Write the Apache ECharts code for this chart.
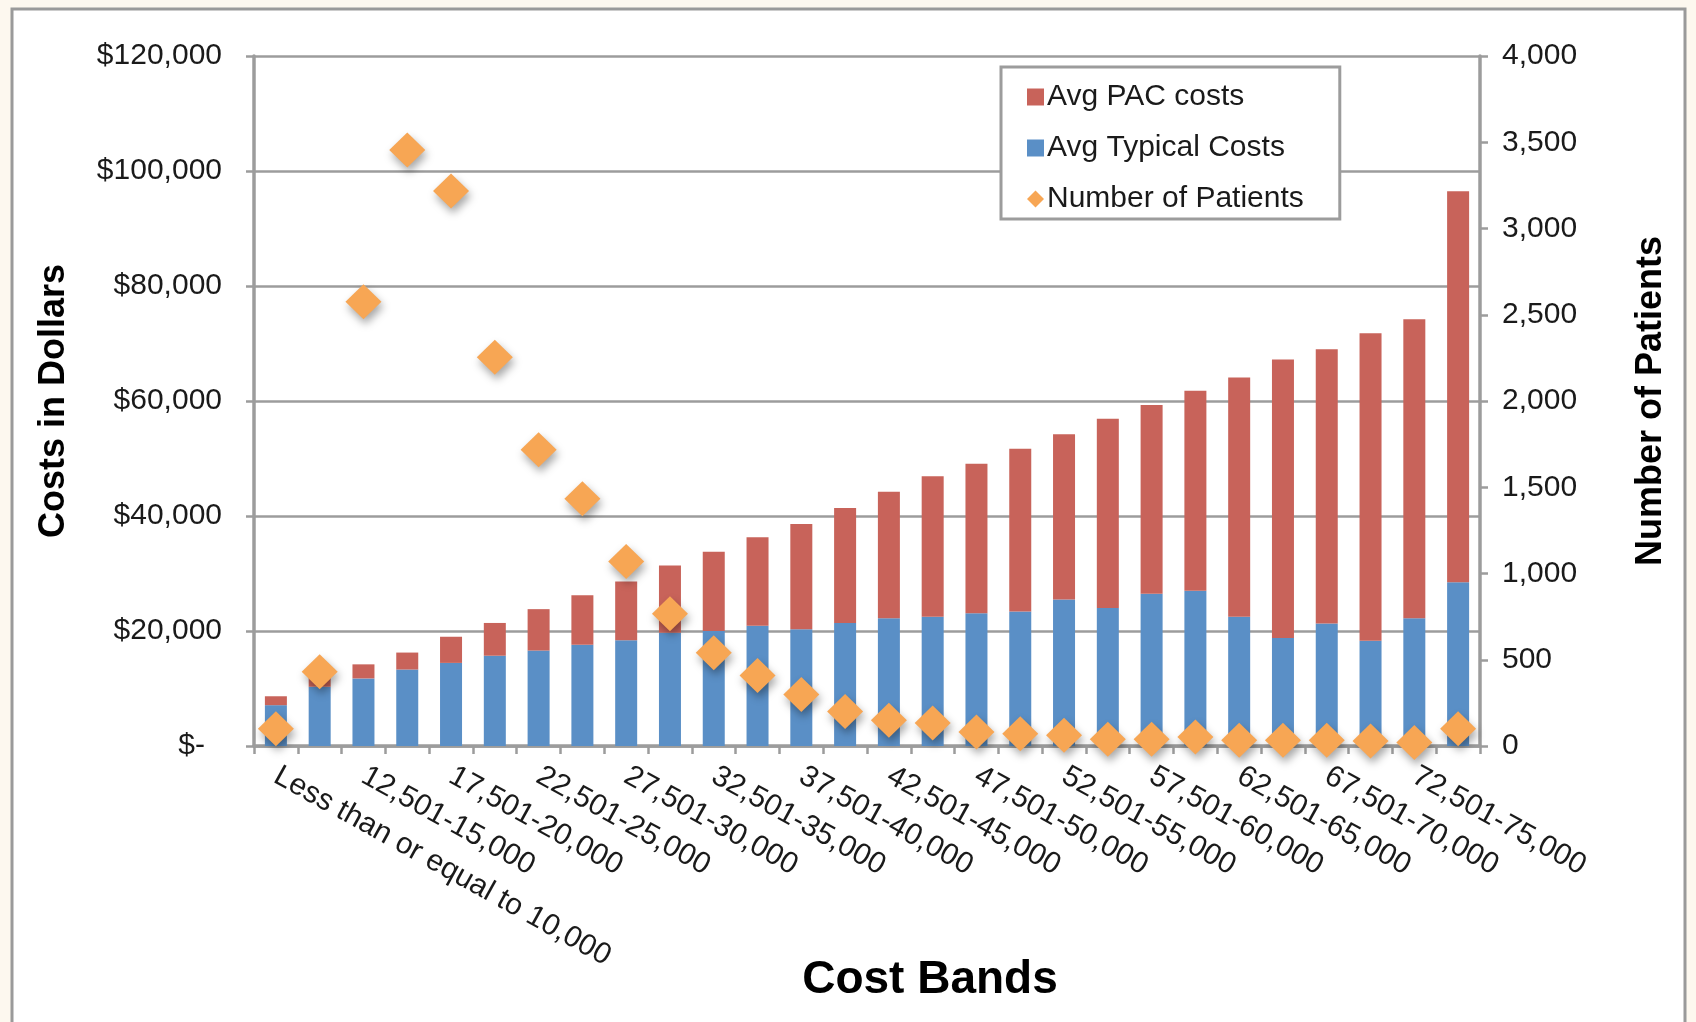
<!DOCTYPE html>
<html>
<head>
<meta charset="utf-8">
<script src="https://cdn.jsdelivr.net/npm/echarts@6/dist/echarts.min.js"></script>
<style>
html,body{margin:0;padding:0;background:#fdf8ef;}
#chart{width:1696px;height:1022px;}
</style>
</head>
<body>
<div id="chart"></div>
<script>
const categories = ["Less than or equal to 10,000","10,001-12,500","12,501-15,000","15,001-17,500","17,501-20,000","20,001-22,500","22,501-25,000","25,001-27,500","27,501-30,000","30,001-32,500","32,501-35,000","35,001-37,500","37,501-40,000","40,001-42,500","42,501-45,000","45,001-47,500","47,501-50,000","50,001-52,500","52,501-55,000","55,001-57,500","57,501-60,000","60,001-62,500","62,501-65,000","65,001-67,500","67,501-70,000","70,001-72,500","72,501-75,000","Greater than 75,000"];
const avgTypicalCosts = [7100,10300,11750,13300,14450,15700,16600,17600,18400,19700,20000,20900,20300,21400,22200,22500,23100,23400,25500,24000,26500,27000,22500,18800,21300,18300,22200,28500];
const avgPacCosts = [1550,1700,2450,2950,4550,5700,7200,8600,10200,11700,13800,15400,18300,20000,22000,24400,26000,28300,28700,32900,32800,34800,41600,48400,47700,53500,52000,68000];
const numberOfPatients = [100,430,2575,3455,3218,2253,1717,1433,1069,766,540,409,299,200,149,133,81,71,62,39,39,52,33,33,33,29,21,100];
const leftTicks = {min:0, max:120000, interval:20000};
const rightTicks = {min:0, max:4000, interval:500};

const FONT = '"Liberation Sans", Arial, Helvetica, sans-serif';
const GRAY = '#9c9c9c';
const TXT = '#1a1a1a';
const RED = '#C8635A';
const BLUE = '#5A8FC6';
const ORANGE = '#F7A654';

const chart = echarts.init(document.getElementById('chart'), null, {renderer:'canvas'});
const fmtMoney = v => v === 0 ? '{z|$-}' : '$' + v.toLocaleString('en-US');
chart.setOption({
  backgroundColor: '#fdf8ef',
  textStyle: {fontFamily: FONT},
  animation: false,
  graphic: [{
    type: 'rect', z: -100, silent: true,
    shape: {x: 12, y: 9, width: 1673, height: 1040},
    style: {fill: '#ffffff', stroke: '#9a9a9a', lineWidth: 3}
  }],
  grid: {left: 254, right: 216, top: 56, bottom: 276, containLabel: false, outerBoundsMode: 'none'},
  legend: {
    orient: 'vertical', left: 1001, top: 67,
    data: [
      {name: 'Avg PAC costs', icon: 'rect'},
      {name: 'Avg Typical Costs', icon: 'rect'},
      {name: 'Number of Patients', icon: 'diamond'}
    ],
    itemWidth: 17, itemHeight: 17, itemGap: 11,
    padding: [10, 36, 0, 26],
    backgroundColor: '#ffffff', borderColor: GRAY, borderWidth: 3,
    textStyle: {fontSize: 30, color: TXT, fontFamily: FONT, lineHeight: 40, padding: [0,0,0,-2]}
  },
  xAxis: {
    type: 'category', data: categories, boundaryGap: true,
    axisLine: {lineStyle: {color: GRAY, width: 3.5}},
    axisTick: {show: true, interval: 0, length: 8, lineStyle: {color: GRAY, width: 2.5}},
    axisLabel: {interval: 1, rotate: -29, margin: 28, fontSize: 30, color: TXT, fontFamily: FONT},
    name: 'Cost Bands', nameLocation: 'middle', nameGap: 211, nameMoveOverlap: false,
    nameTextStyle: {fontSize: 46, fontWeight: 'bold', color: '#000', fontFamily: FONT, padding: [0, 0, 0, 126]}
  },
  yAxis: [{
    type: 'value', min: leftTicks.min, max: leftTicks.max, interval: leftTicks.interval,
    axisLine: {show: true, lineStyle: {color: GRAY, width: 3.5}},
    axisTick: {show: true, length: 8, lineStyle: {color: GRAY, width: 2.5}},
    splitLine: {show: true, lineStyle: {color: GRAY, width: 2.5}},
    axisLabel: {fontSize: 30, color: TXT, margin: 32, fontFamily: FONT, formatter: fmtMoney,
      rich: {z: {fontSize: 30, color: TXT, fontFamily: FONT, padding: [0, 17, 0, 0]}}},
    name: 'Costs in Dollars', nameLocation: 'middle', nameGap: 182, nameRotate: 90, nameMoveOverlap: false,
    nameTextStyle: {fontSize: 36, fontWeight: 'bold', color: '#000', fontFamily: FONT}
  }, {
    type: 'value', position: 'right', min: rightTicks.min, max: rightTicks.max, interval: rightTicks.interval,
    axisLine: {show: true, lineStyle: {color: GRAY, width: 3.5}},
    axisTick: {show: true, length: 8, lineStyle: {color: GRAY, width: 2.5}},
    splitLine: {show: false},
    axisLabel: {fontSize: 30, color: TXT, margin: 22, fontFamily: FONT,
      formatter: v => v.toLocaleString('en-US')},
    name: 'Number of Patients', nameLocation: 'middle', nameGap: 153, nameRotate: 90, nameMoveOverlap: false,
    nameTextStyle: {fontSize: 36, fontWeight: 'bold', color: '#000', fontFamily: FONT}
  }],
  series: [{
    name: 'Avg Typical Costs', type: 'bar', stack: 'cost', barWidth: 22,
    data: avgTypicalCosts, itemStyle: {color: BLUE}, z: 2
  }, {
    name: 'Avg PAC costs', type: 'bar', stack: 'cost', barWidth: 22,
    data: avgPacCosts, itemStyle: {color: RED}, z: 2
  }, {
    name: 'Number of Patients', type: 'scatter', yAxisIndex: 1,
    symbol: 'diamond', symbolSize: [36, 35], data: numberOfPatients, z: 5,
    itemStyle: {color: ORANGE, opacity: 1, shadowBlur: 8, shadowColor: 'rgba(0,0,0,0.35)', shadowOffsetX: 2, shadowOffsetY: 5}
  }]
});
</script>
</body>
</html>
